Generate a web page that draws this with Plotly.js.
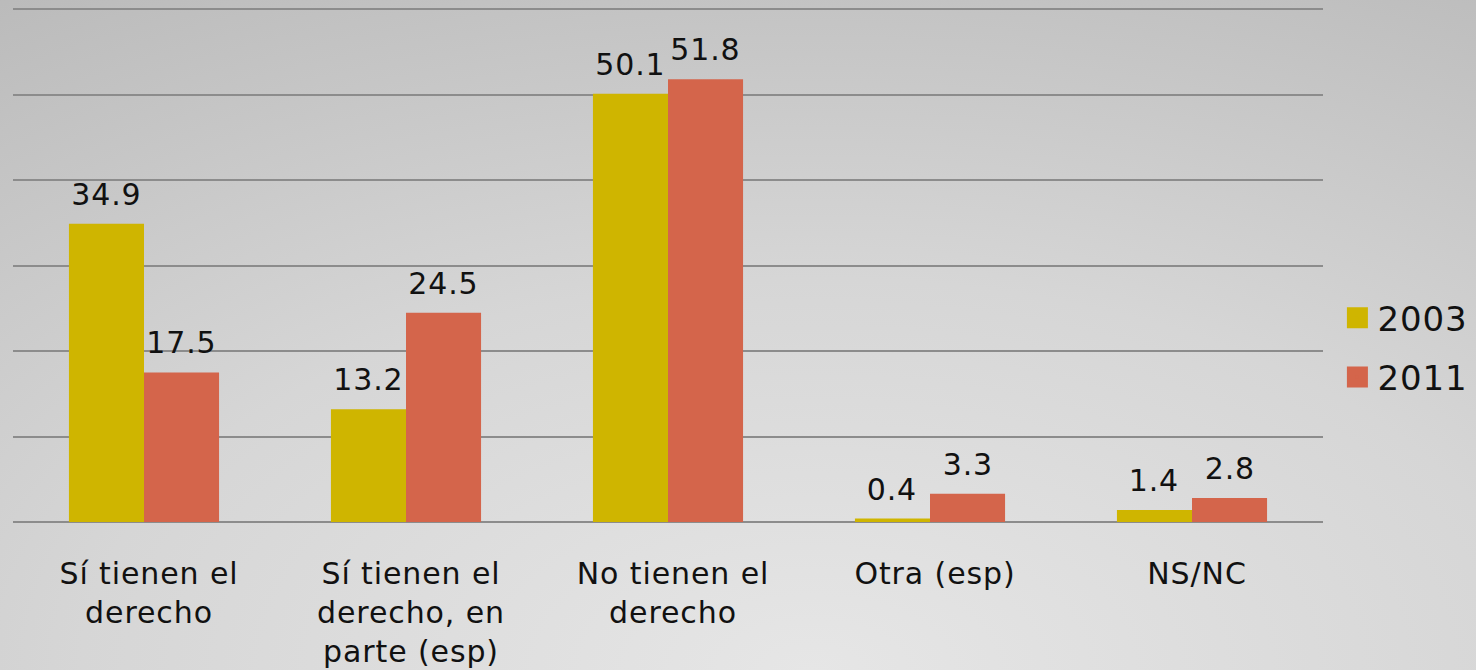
<!DOCTYPE html>
<html>
<head>
<meta charset="utf-8">
<script src="https://cdn.plot.ly/plotly-3.0.1.min.js"></script>
<style>
html, body { margin:0; padding:0; width:1476px; height:670px; overflow:hidden;
  background: radial-gradient(ellipse 110% 130% at 55% 100%, #e6e6e6 0%, #d6d6d6 45%, #b6b6b6 100%); }
#chart { width:1476px; height:670px; }
#chart text { letter-spacing: 0.9px; }
#chart .xtick text { translate: 5px 0; }
#chart .legend .traces path { stroke-width: 9px !important; stroke-linejoin: miter !important; }
</style>
</head>
<body>
<div id="chart"></div>
<script>
const categories = [
  "Sí tienen el<br>derecho",
  "Sí tienen el<br>derecho, en<br>parte (esp)",
  "No tienen el<br>derecho",
  "Otra (esp)",
  "NS/NC"
];
const seriesNames = ["2003", "2011"];
const values2003 = [34.9, 13.2, 50.1, 0.4, 1.4];
const values2011 = [17.5, 24.5, 51.8, 3.3, 2.8];
const colors = ["#CFB500", "#D4654B"];

const FONT = "DejaVu Sans, Verdana, sans-serif";
const W = 1476, H = 670;
const margin = {l: 13, r: 153, t: 5, b: 148, autoexpand: false};
const bargap = 0.427;
const plotW = W - margin.l - margin.r;
const catW = plotW / categories.length;
const barW = catW * (1 - bargap) / 2;

const allSeries = [values2003, values2011];
const traces = allSeries.map((vals, s) => ({
  type: "bar",
  name: seriesNames[s],
  legendgroup: "g" + s,
  x: categories,
  y: vals,
  marker: {color: colors[s], line: {width: 0.01, color: colors[s]}},
  hoverinfo: "skip"
}));

const annotations = [];
allSeries.forEach((vals, s) => {
  vals.forEach((v, i) => {
    annotations.push({
      x: categories[i], y: v, xref: "x", yref: "y",
      text: String(v), showarrow: false,
      xanchor: "center", yanchor: "bottom",
      xshift: (s === 0 ? -1 : 1) * barW / 2,
      yshift: 10,
      font: {family: FONT, size: 30, color: "#111111"}
    });
  });
});

const layout = {
  width: W, height: H,
  margin: margin,
  paper_bgcolor: "rgba(0,0,0,0)",
  plot_bgcolor: "rgba(0,0,0,0)",
  barmode: "group",
  bargap: bargap,
  bargroupgap: 0,
  font: {family: FONT, color: "#111111"},
  xaxis: {
    type: "category",
    showgrid: false,
    showline: false,
    zeroline: false,
    ticks: "",
    ticklabelstandoff: 31,
    tickfont: {family: FONT, size: 30, color: "#111111"}
  },
  yaxis: {
    range: [0, 60.5],
    dtick: 10,
    showticklabels: false,
    showgrid: true,
    gridcolor: "#8c8c8c",
    gridwidth: 2,
    zeroline: true,
    zerolinecolor: "#8c8c8c",
    zerolinewidth: 2,
    showline: false,
    ticks: ""
  },
  legend: {
    x: 1.011, xanchor: "left",
    y: 0.337, yanchor: "middle",
    orientation: "v",
    font: {family: FONT, size: 34, color: "#111111"},
    bgcolor: "rgba(0,0,0,0)",
    tracegroupgap: 12,
    itemclick: false
  },
  annotations: annotations,
  showlegend: true
};

Plotly.newPlot("chart", traces, layout, {displayModeBar: false, staticPlot: true});
</script>
</body>
</html>
